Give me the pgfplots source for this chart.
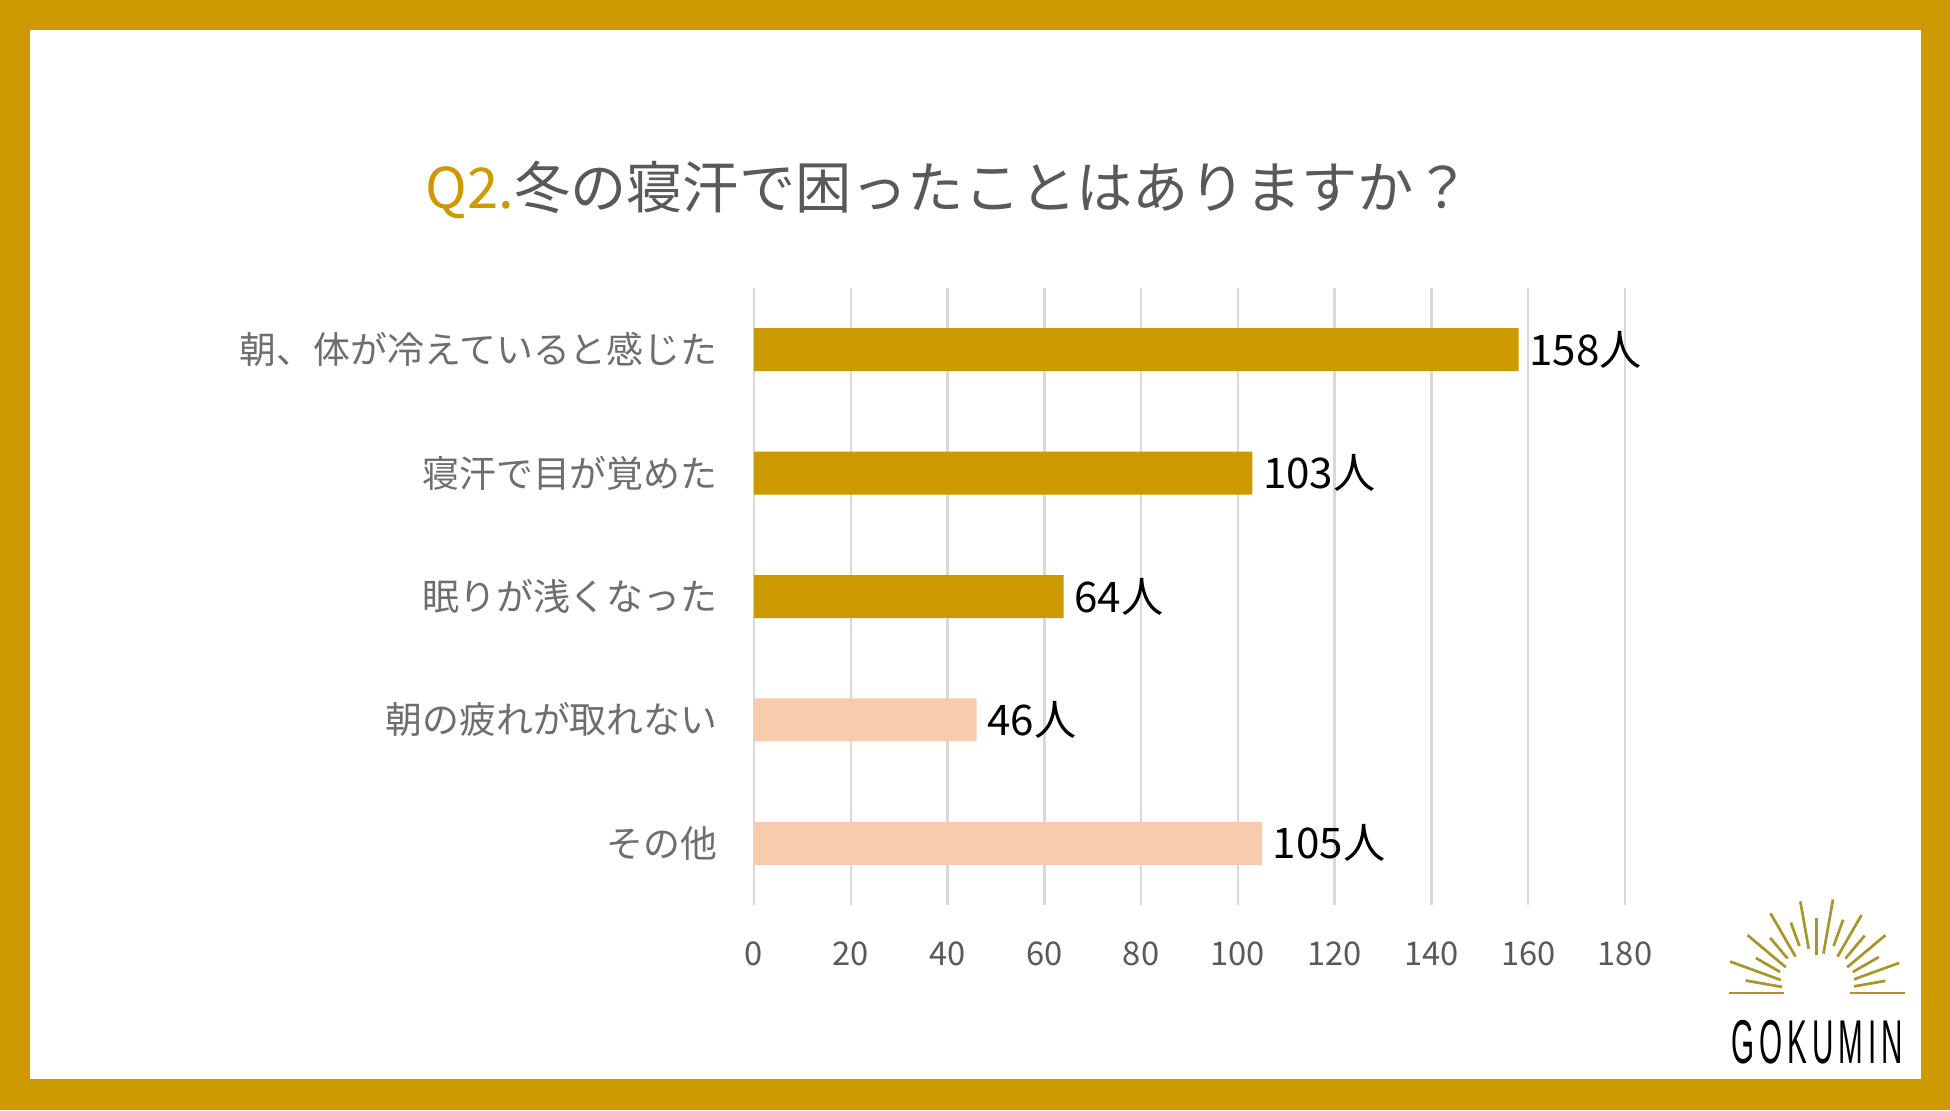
\documentclass[border=0pt]{standalone}
\usepackage{pgfplots}
\pgfplotsset{compat=1.18}
\usepackage{fontspec}
\usepackage{graphicx}
\setmainfont{Noto Sans CJK JP}
\newfontfamily\logofont{Liberation Sans}
\definecolor{gold}{HTML}{CC9900}
\definecolor{pinkbar}{HTML}{F8CBAD}
\definecolor{titlegray}{HTML}{595959}
\definecolor{labgray}{HTML}{6E6E6E}
\definecolor{gridgray}{HTML}{D9D9D9}
\definecolor{olive}{HTML}{A8962A}
\begin{document}
\begin{tikzpicture}
\fill[gold] (0,0) rectangle (195mm,111mm);
\fill[white] (3mm,3.1mm) rectangle (192.1mm,108mm);
\useasboundingbox (0,0) rectangle (195mm,111mm);
\node[font=\fontsize{16}{19}\selectfont] at (94.8mm,92.0mm) {\textcolor{gold}{Q2.}\textcolor{titlegray}{冬の寝汗で困ったことはありますか？}};
\begin{axis}[at={(75.4mm,20.5mm)}, anchor=south west, scale only axis,
 width=87.1mm, height=61.7mm,
 xbar, bar width=4.3mm, bar shift=0pt,
 xmin=0, xmax=180, ymin=-0.5, ymax=4.5, y dir=reverse,
 xtick={0,20,...,180}, ytick={0,1,2,3,4},
 yticklabels={朝、体が冷えていると感じた,寝汗で目が覚めた,眠りが浅くなった,朝の疲れが取れない,その他},
 xmajorgrids, ymajorgrids=false, major grid style={gridgray, line width=0.25mm},
 axis line style={draw=none}, major tick length=0pt,
 /pgf/number format/assume math mode=true,
 xticklabel style={font=\fontsize{9.3}{11}\selectfont, text=titlegray, yshift=-2.4mm},
 yticklabel style={font=\fontsize{10.5}{12}\selectfont, text=labgray, xshift=-2.4mm},
 point meta=x,
 nodes near coords={\pgfmathprintnumber{\pgfplotspointmeta}人},
 nodes near coords style={font=\fontsize{12}{14}\selectfont, text=black, anchor=west, inner sep=1mm},
]
\addplot[fill=gold, draw=none] coordinates {(158,0) (103,1) (64,2)};
\addplot[fill=pinkbar, draw=none] coordinates {(46,3) (105,4)};
\end{axis}
\foreach \a/\ri/\ro in {0/3.3/8.8, 10/3.8/7.0, 20/4.0/8.8, 30/4.2/7.2, 40/4.0/9.0, 50/4.5/7.5, 60/4.2/9.0, 70/5.0/7.8, 80/4.0/9.5, 90/3.8/7.5, 100/4.5/9.3, 110/5.0/7.5, 120/4.2/9.2, 130/4.5/7.2, 140/4.0/9.0, 150/4.2/7.0, 160/3.8/9.2, 170/3.5/7.2, 180/3.3/8.8}
  \draw[olive, line width=0.27mm] ([shift={(\a:\ri mm)}]181.65mm,11.7mm) -- ([shift={(\a:\ro mm)}]181.65mm,11.7mm);
\node at (181.7mm,6.8mm) {\scalebox{0.48}[1]{\fontsize{17.6}{20}\logofont G\,O\,K\,U\,M\,I\,N}};
\end{tikzpicture}
\end{document}
